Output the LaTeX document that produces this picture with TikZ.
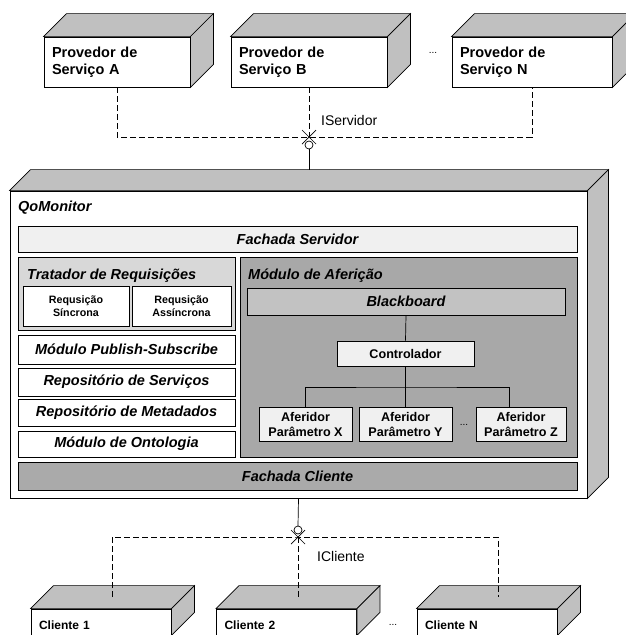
\documentclass[tikz,border=0pt]{standalone}
\usepackage{fontspec}
\setmainfont{Liberation Sans}
\usetikzlibrary{positioning}
\definecolor{qmface}{HTML}{C0C0C0}
\definecolor{qmlight}{HTML}{F0F0F0}
\definecolor{qmtrat}{HTML}{D8D8D8}
\definecolor{qmaferi}{HTML}{A8A8A8}
\definecolor{qmboard}{HTML}{C2C2C2}
\definecolor{qmcliente}{HTML}{AAAAAA}

% top and right faces of a 3D node
\newcommand{\nodefaces}[2]{%
  \filldraw[qmface, draw=black, line width=0.7pt] (#1.north west) -- ++(#2,-#2) -- ([shift={(#2,-#2)}]#1.north east) -- (#1.north east) -- cycle;
  \filldraw[qmface, draw=black, line width=0.7pt] (#1.north east) -- ++(#2,-#2) -- ([shift={(#2,-#2)}]#1.south east) -- (#1.south east) -- cycle;
}

\begin{document}
\begin{tikzpicture}[x=1pt, y=-1pt,
  font=\fontsize{14.5}{17}\selectfont\bfseries,
  front/.style={draw=black, line width=0.8pt, fill=white, align=left, inner xsep=8pt, inner ysep=0pt},
  part/.style={draw=black, line width=0.8pt, inner sep=0pt, align=center, font=\fontsize{14.5}{17}\selectfont\bfseries\itshape},
  reqbox/.style={part, fill=white, font=\fontsize{10.7}{12.5}\selectfont\bfseries},
  meter/.style={part, fill=qmlight, font=\fontsize{12.6}{15}\selectfont\bfseries},
  title/.style={anchor=base west, inner sep=0pt, font=\fontsize{14.5}{17}\selectfont\bfseries\itshape},
  client/.style={front, minimum width=140, minimum height=26, text width=124, text height=16, font=\fontsize{12}{14}\selectfont\bfseries},
  dots/.style={inner sep=0pt, font=\fontsize{10}{12}\selectfont\mdseries},
  iface/.style={line width=0.7pt, dash pattern=on 6pt off 3pt},
  wire/.style={line width=0.7pt}
]
\clip (0,0) rectangle (626,635);

% service providers
\node[front, minimum width=146, minimum height=50, text width=130] (pa) at (117,62) {Provedor de\\Serviço A};
\node[front, minimum width=156, minimum height=50, text width=140] (pb) at (309,62) {Provedor de\\Serviço B};
\node[front, minimum width=160, minimum height=50, text width=144] (pn) at (532,62) {Provedor de\\Serviço N};
\nodefaces{pa}{23}
\nodefaces{pb}{23}
\nodefaces{pn}{23}
\node[dots] (pdots) at (433,53) {...};

% QoMonitor
\node[front, minimum width=577, minimum height=307] (qom) at (298.5,344.5) {};
\nodefaces{qom}{21}
\node[title] (qomtitle) at (18,211) {QoMonitor};

\node[part, fill=qmlight, minimum width=559, minimum height=26] (fserv) at (297.5,239) {Fachada Servidor};

\node[part, fill=qmtrat, minimum width=217, minimum height=73] (trat) at (126.5,293.5) {};
\node[title] (trattitle) at (27,279) {Tratador de Requisições};
\node[reqbox, minimum width=106, minimum height=40] (rsinc) at (76,306) {Requsição\\Síncrona};
\node[reqbox, minimum width=99, minimum height=40] (rassinc) at (181.5,306) {Requsição\\Assíncrona};

\node[part, fill=white, minimum width=217, minimum height=29] (pubsub) at (126.5,349.5) {Módulo Publish-Subscribe};
\node[part, fill=white, minimum width=217, minimum height=28] (repserv) at (126.5,382) {Repositório de Serviços};
\node[part, fill=white, minimum width=217, minimum height=27] (repmeta) at (126.5,412.5) {Repositório de Metadados};
\node[part, fill=white, minimum width=217, minimum height=26] (onto) at (126.5,444) {Módulo de Ontologia};

\node[part, fill=qmaferi, minimum width=337, minimum height=200] (afer) at (408.5,357) {};
\node[title] (afertitle) at (248,279) {Módulo de Aferição};
\node[part, fill=qmboard, minimum width=318, minimum height=27] (bb) at (406,301.5) {Blackboard};
\node[meter, minimum width=137, minimum height=25] (ctl) at (405.5,353.5) {Controlador};
\node[meter, minimum width=93, minimum height=34] (ax) at (305.5,424) {Aferidor\\Parâmetro X};
\node[meter, minimum width=93, minimum height=34] (ay) at (405.5,424) {Aferidor\\Parâmetro Y};
\node[meter, minimum width=90, minimum height=34] (az) at (521,424) {Aferidor\\Parâmetro Z};
\node[dots] (adots) at (464,425) {...};

\coordinate (bus) at (405.5,387);
\draw[wire] (bb.south) -- (ctl.north);
\draw[wire] (ctl.south) -- (bus);
\draw[wire] (ax.north) |- (bus) -| ([xshift=-12]az.north);
\draw[wire] (bus) -- (ay.north);

\node[part, fill=qmcliente, minimum width=559, minimum height=28] (fcli) at (297.5,476) {Fachada Cliente};

% IServidor
\coordinate (isrv) at (309,137);
\coordinate (qomtop) at ([shift={(10.5,-21)}]qom.north);
\draw[iface] (pa.south) |- (isrv) -| (pn.south);
\draw[iface] (pb.south) -- (isrv);
\draw[wire, fill=white] ([yshift=-8pt]isrv) circle (4pt);
\draw[wire] ([shift={(-7,-7)}]isrv) -- ([shift={(7,7)}]isrv);
\draw[wire] ([shift={(-7,7)}]isrv) -- ([shift={(7,-7)}]isrv);
\draw[wire] ([yshift=-12pt]isrv) -- (qomtop);
\node[anchor=west, inner sep=0pt, font=\fontsize{14}{16}\selectfont\mdseries] (lsrv) at (321,120) {IServidor};

% clients
\node[client] (c1) at (101,622) {Cliente 1};
\node[client] (c2) at (286.5,622) {Cliente 2};
\node[client] (cn) at (487,622) {Cliente N};
\nodefaces{c1}{23}
\nodefaces{c2}{23}
\nodefaces{cn}{23}
\node[dots] (cdots) at (393,625) {...};

% ICliente
\coordinate (icli) at (298,537);
\draw[iface] ([shift={(11.5,-11.5)}]c1.north) |- (icli) -| ([shift={(11.5,-11.5)}]cn.north);
\draw[iface] (icli) -- ([shift={(11.5,-11.5)}]c2.north);
\draw[wire] (qom.south) -- ([yshift=11pt]icli);
\draw[wire, fill=white] ([yshift=7pt]icli) circle (4pt);
\draw[wire] ([shift={(-7,-7)}]icli) -- ([shift={(7,7)}]icli);
\draw[wire] ([shift={(-7,7)}]icli) -- ([shift={(7,-7)}]icli);
\node[anchor=west, inner sep=0pt, font=\fontsize{14}{16}\selectfont\mdseries] (lcli) at (317,556) {ICliente};

\end{tikzpicture}
\end{document}
